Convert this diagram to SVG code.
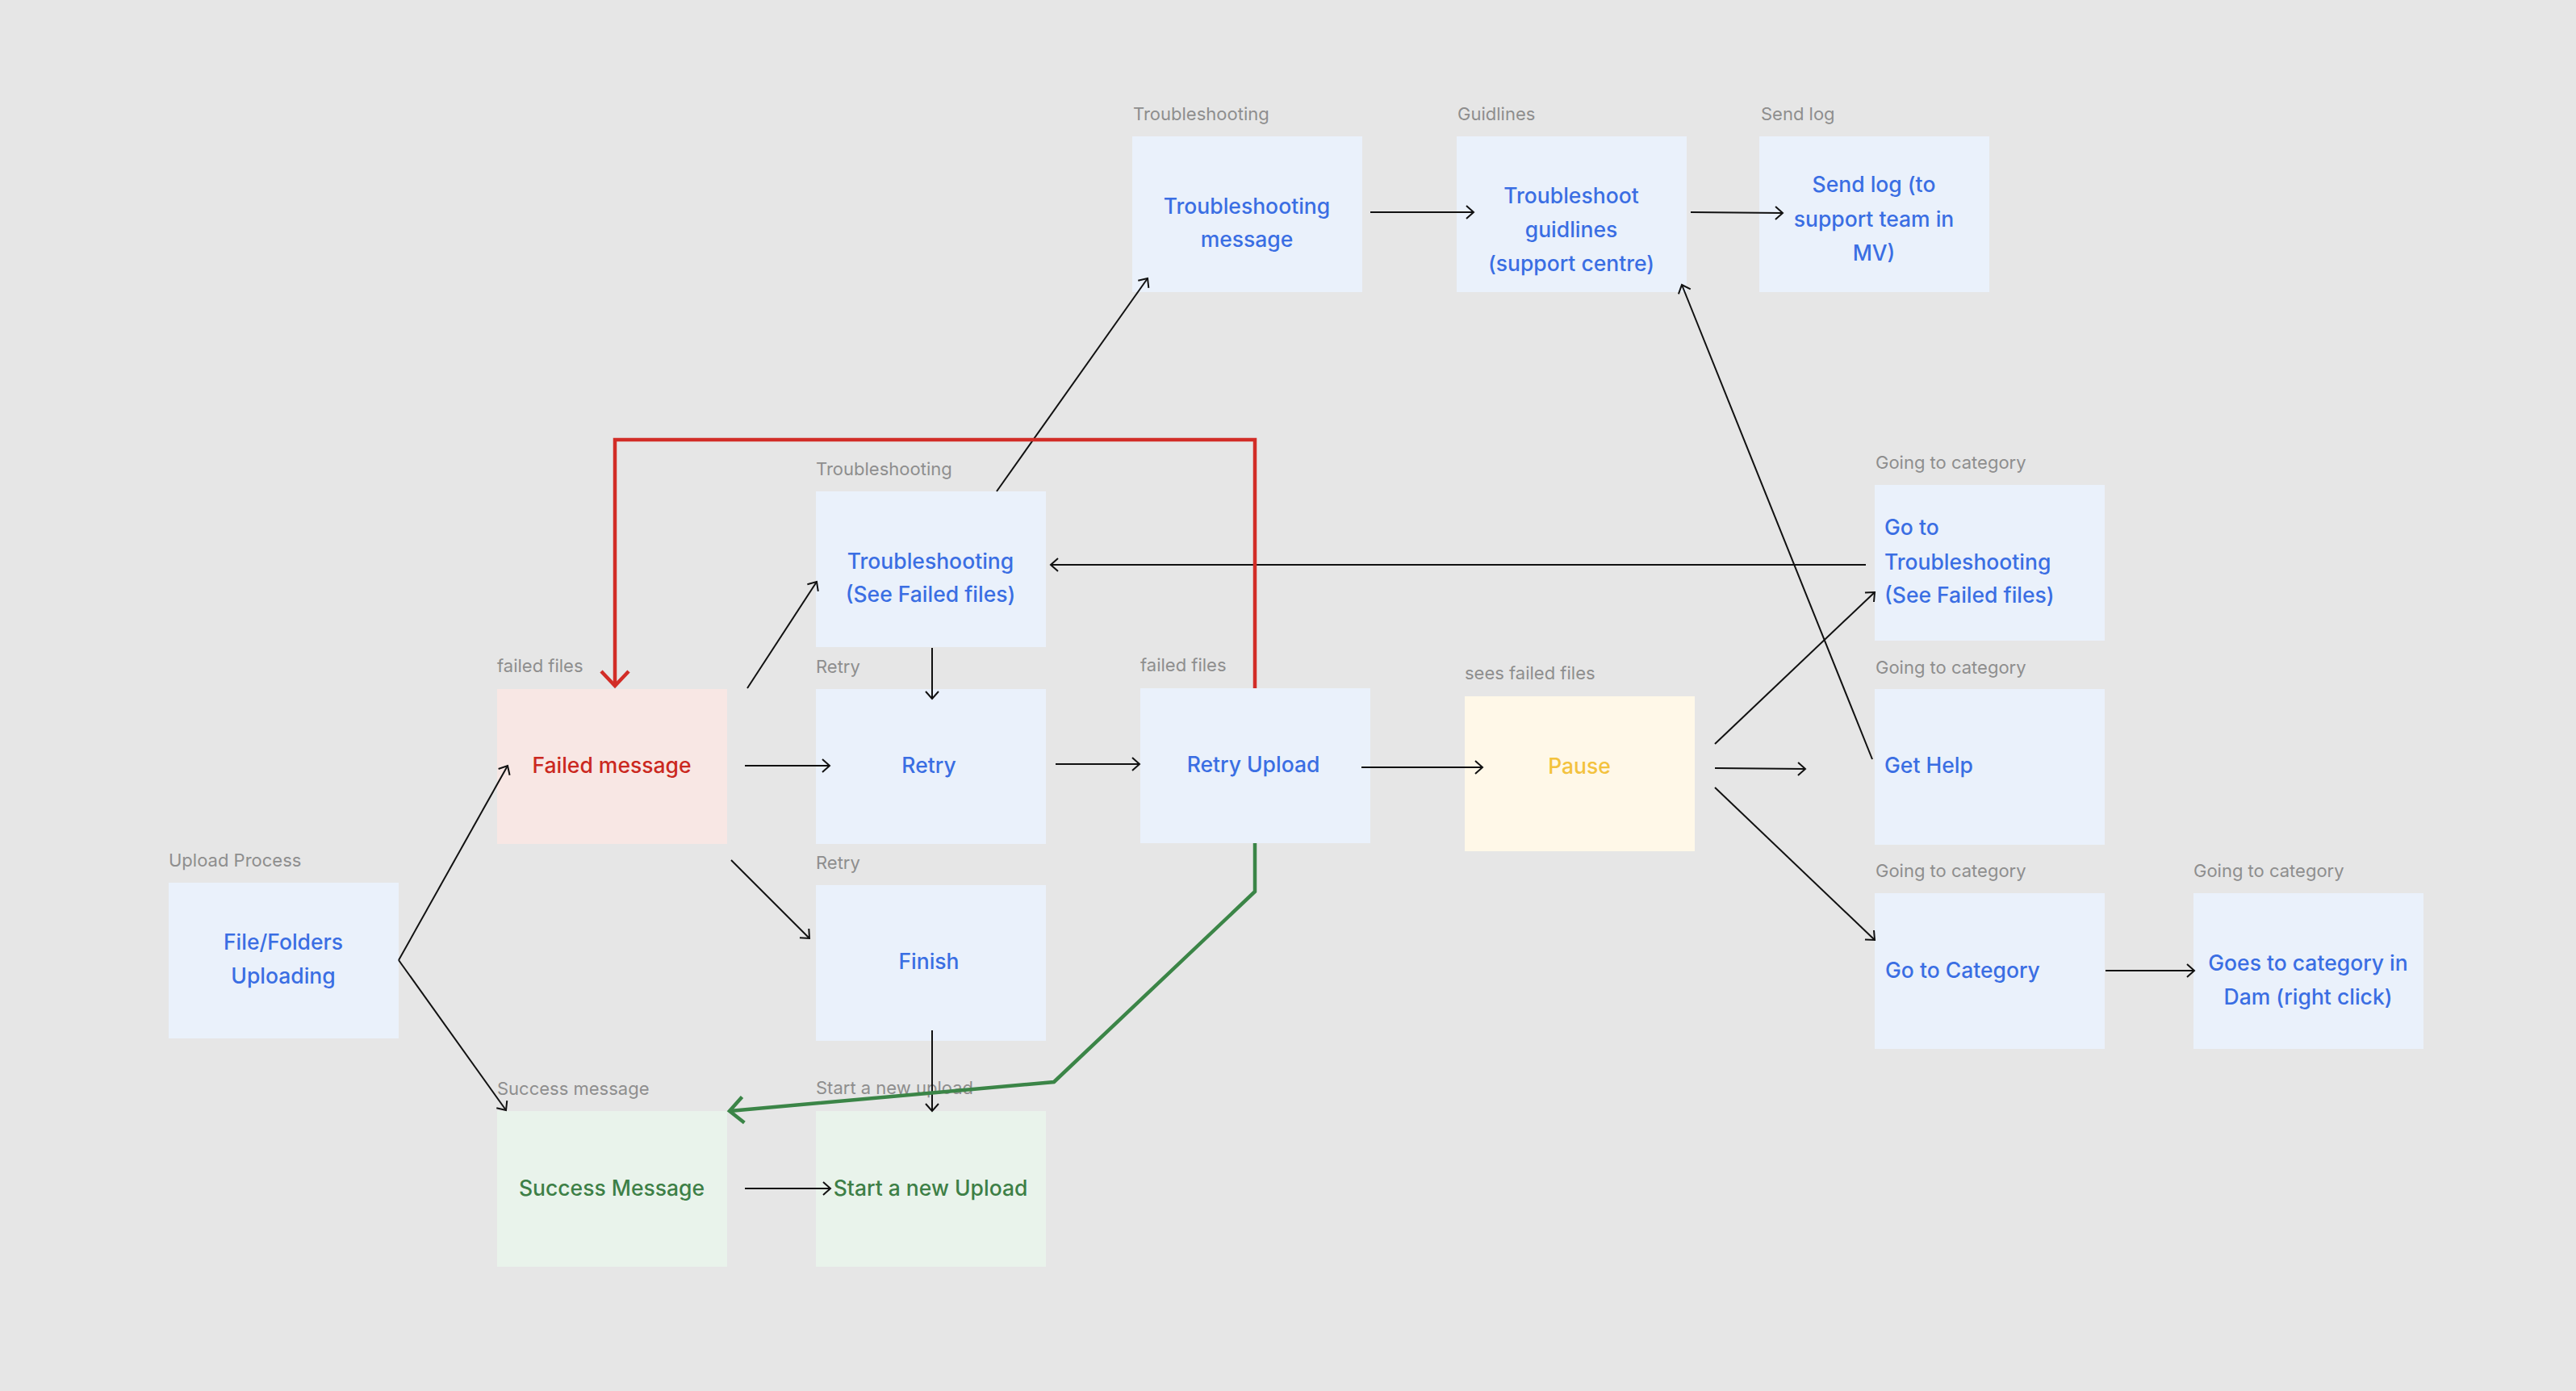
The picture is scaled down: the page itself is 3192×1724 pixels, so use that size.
<svg xmlns="http://www.w3.org/2000/svg" width="3192" height="1724" viewBox="0 0 3192 1724">
<defs>
<style>
.lbl{font-family:Inter,"Liberation Sans",sans-serif;font-size:22px;fill:#8e8e8e}
.t{font-family:Inter,"Liberation Sans",sans-serif;font-size:26.5px;font-weight:500}
.blue rect{fill:#eaf1fb}
.blue .t{fill:#3a6ee3}
.red rect{fill:#f8e7e4}
.red .t{fill:#cb2820}
.green rect{fill:#e9f3eb}
.green .t{fill:#3d7f46}
.yellow rect{fill:#fff8e8}
.yellow .t{fill:#f3c23e}
.c{text-anchor:middle}
.ln{fill:none;stroke:#111;stroke-width:2}
</style>
<marker id="ah" markerUnits="userSpaceOnUse" markerWidth="24" markerHeight="24" viewBox="-12 -12 24 24" refX="0" refY="0" orient="auto">
<path d="M-9,-8 L0,0 L-9,8" fill="none" stroke="#111" stroke-width="2"/>
</marker>
<marker id="ahr" markerUnits="userSpaceOnUse" markerWidth="50" markerHeight="50" viewBox="-25 -25 50 50" refX="0" refY="0" orient="auto">
<path d="M-18,-17 L0,0 L-18,17" fill="none" stroke="#d22d27" stroke-width="4.5"/>
</marker>
<marker id="ahg" markerUnits="userSpaceOnUse" markerWidth="50" markerHeight="50" viewBox="-25 -25 50 50" refX="0" refY="0" orient="auto">
<path d="M-17,-16 L0,0 L-17,16" fill="none" stroke="#3b8547" stroke-width="4.5"/>
</marker>
</defs>
<rect x="0" y="0" width="3192" height="1724" fill="#e6e6e6"/>

<g id="n-upload" class="blue">
<text class="lbl" x="209" y="1074">Upload Process</text>
<rect x="209" y="1094" width="285" height="193"/>
<text class="t c" x="351" y="1177">File/Folders</text>
<text class="t c" x="351" y="1219">Uploading</text>
</g>
<g id="n-failed" class="red">
<text class="lbl" x="616" y="833">failed files</text>
<rect x="616" y="854" width="285" height="192"/>
<text class="t c" x="758" y="958">Failed message</text>
</g>
<g id="n-success" class="green">
<text class="lbl" x="616" y="1357">Success message</text>
<rect x="616" y="1377" width="285" height="193"/>
<text class="t c" x="758" y="1482">Success Message</text>
</g>
<g id="n-tsee" class="blue">
<text class="lbl" x="1011" y="589">Troubleshooting</text>
<rect x="1011" y="609" width="285" height="193"/>
<text class="t c" x="1153" y="705">Troubleshooting</text>
<text class="t c" x="1153" y="746">(See Failed files)</text>
</g>
<g id="n-retry" class="blue">
<text class="lbl" x="1011" y="834">Retry</text>
<rect x="1011" y="854" width="285" height="192"/>
<text class="t c" x="1151" y="958">Retry</text>
</g>
<g id="n-finish" class="blue">
<text class="lbl" x="1011" y="1077">Retry</text>
<rect x="1011" y="1097" width="285" height="193"/>
<text class="t c" x="1151" y="1201">Finish</text>
</g>
<g id="n-start" class="green">
<text class="lbl" x="1011" y="1356">Start a new upload</text>
<rect x="1011" y="1377" width="285" height="193"/>
<text class="t c" x="1153" y="1482">Start a new Upload</text>
</g>
<g id="n-retryupload" class="blue">
<text class="lbl" x="1413" y="832">failed files</text>
<rect x="1413" y="853" width="285" height="192"/>
<text class="t c" x="1553" y="957">Retry Upload</text>
</g>
<g id="n-tmsg" class="blue">
<text class="lbl" x="1404" y="149">Troubleshooting</text>
<rect x="1403" y="169" width="285" height="193"/>
<text class="t c" x="1545" y="265">Troubleshooting</text>
<text class="t c" x="1545" y="306">message</text>
</g>
<g id="n-guid" class="blue">
<text class="lbl" x="1806" y="149">Guidlines</text>
<rect x="1805" y="169" width="285" height="193"/>
<text class="t c" x="1947" y="252">Troubleshoot</text>
<text class="t c" x="1947" y="294">guidlines</text>
<text class="t c" x="1947" y="336">(support centre)</text>
</g>
<g id="n-sendlog" class="blue">
<text class="lbl" x="2182" y="149">Send log</text>
<rect x="2180" y="169" width="285" height="193"/>
<text class="t c" x="2322" y="238">Send log (to</text>
<text class="t c" x="2322" y="281">support team in</text>
<text class="t c" x="2322" y="323">MV)</text>
</g>
<g id="n-pause" class="yellow">
<text class="lbl" x="1815" y="842">sees failed files</text>
<rect x="1815" y="863" width="285" height="192"/>
<text class="t c" x="1957" y="959">Pause</text>
</g>
<g id="n-gots" class="blue">
<text class="lbl" x="2324" y="581">Going to category</text>
<rect x="2323" y="601" width="285" height="193"/>
<text class="t" x="2335" y="663">Go to</text>
<text class="t" x="2335" y="706">Troubleshooting</text>
<text class="t" x="2335" y="747">(See Failed files)</text>
</g>
<g id="n-gethelp" class="blue">
<text class="lbl" x="2324" y="835">Going to category</text>
<rect x="2323" y="854" width="285" height="193"/>
<text class="t" x="2335" y="958">Get Help</text>
</g>
<g id="n-gocat" class="blue">
<text class="lbl" x="2324" y="1087">Going to category</text>
<rect x="2323" y="1107" width="285" height="193"/>
<text class="t" x="2336" y="1212">Go to Category</text>
</g>
<g id="n-goescat" class="blue">
<text class="lbl" x="2718" y="1087">Going to category</text>
<rect x="2718" y="1107" width="285" height="193"/>
<text class="t c" x="2860" y="1203">Goes to category in</text>
<text class="t c" x="2860" y="1245">Dam (right click)</text>
</g>

<g id="connectors">
<path class="ln" marker-end="url(#ah)" d="M494,1190 L629,949"/>
<path class="ln" marker-end="url(#ah)" d="M494,1190 L627,1376"/>
<path class="ln" marker-end="url(#ah)" d="M923,949 L1028,949"/>
<path class="ln" marker-end="url(#ah)" d="M926,853 L1012,721"/>
<path class="ln" marker-end="url(#ah)" d="M906,1066 L1003,1163"/>
<path class="ln" marker-end="url(#ah)" d="M1155,803 L1155,866"/>
<path class="ln" marker-end="url(#ah)" d="M1308,947 L1412,947"/>
<path class="ln" marker-end="url(#ah)" d="M1687,951 L1837,951"/>
<path class="ln" marker-end="url(#ah)" d="M1235,609 L1422,345"/>
<path class="ln" marker-end="url(#ah)" d="M1698,263 L1826,263"/>
<path class="ln" marker-end="url(#ah)" d="M2095,263 L2209,264"/>
<path class="ln" marker-end="url(#ah)" d="M2312,700 L1302,700"/>
<path class="ln" marker-end="url(#ah)" d="M2125,922 L2323,734"/>
<path class="ln" marker-end="url(#ah)" d="M2125,952 L2237,953"/>
<path class="ln" marker-end="url(#ah)" d="M2125,976 L2323,1165"/>
<path class="ln" marker-end="url(#ah)" d="M2320,941 L2084,353"/>
<path class="ln" marker-end="url(#ah)" d="M2609,1203 L2719,1203"/>
<path class="ln" marker-end="url(#ah)" d="M1155,1277 L1155,1377"/>
<path class="ln" marker-end="url(#ah)" d="M923,1473 L1029,1473"/>
<path fill="none" stroke="#d22d27" stroke-width="4.5" marker-end="url(#ahr)" d="M1555,853 L1555,545 L762,545 L762,850"/>
<path fill="none" stroke="#3b8547" stroke-width="4.5" marker-end="url(#ahg)" d="M1555,1045 L1555,1105 L1306,1341 L904,1377"/>
</g>
</svg>
